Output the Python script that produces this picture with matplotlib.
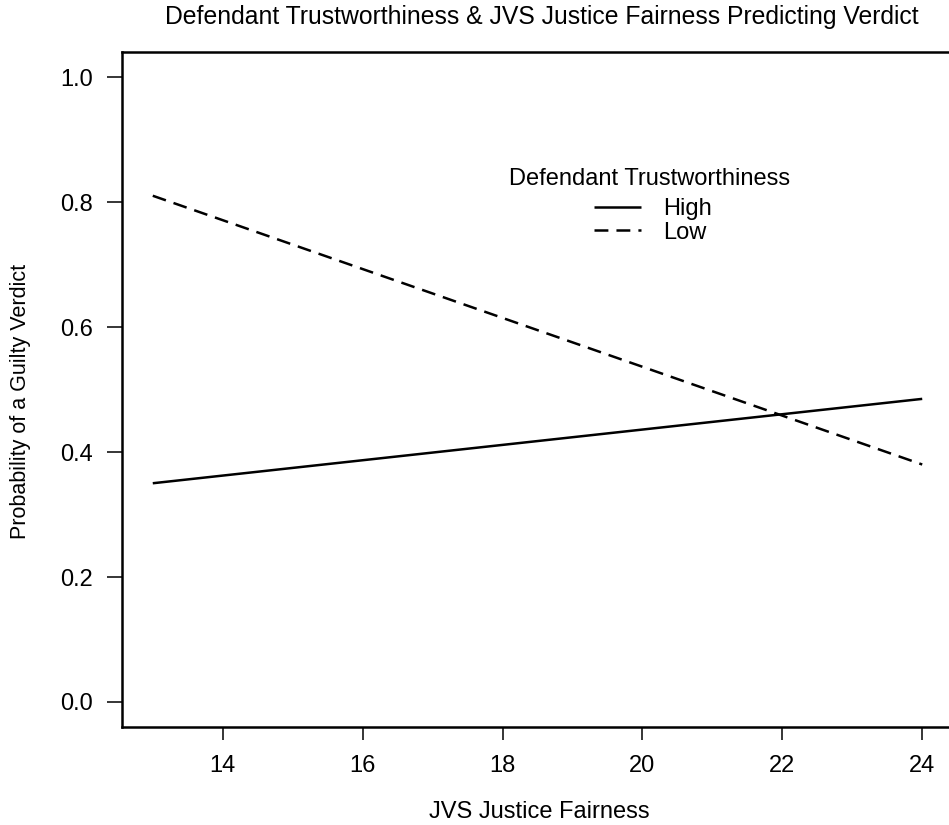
import matplotlib
matplotlib.use("Agg")
import matplotlib.pyplot as plt

plt.rcParams['font.family'] = ['Liberation Sans', 'DejaVu Sans']
plt.rcParams['lines.scale_dashes'] = False

# data
fairness = [13, 24]
high_trust = [0.35, 0.485]
low_trust = [0.81, 0.38]
x_ticks = [14, 16, 18, 20, 22, 24]
y_ticks = [0.0, 0.2, 0.4, 0.6, 0.8, 1.0]

W, H = 949, 825
fig = plt.figure(figsize=(W / 100, H / 100), dpi=100)
# right edge of the box lies just outside the picture, as in the reference
ax = fig.add_axes([122 / W, 1 - 727 / H, (953 - 122) / W, (727 - 52) / H])

ax.plot(fairness, high_trust, color='black', lw=1.8, label='High', solid_capstyle='butt')
ax.plot(fairness, low_trust, color='black', lw=1.8, linestyle=(0, (10, 5.8)), label='Low',
        dash_capstyle='butt')

ax.set_xlim(12.56, 24.44)
ax.set_ylim(-0.04, 1.04)
ax.set_xticks(x_ticks)
ax.set_yticks(y_ticks)
ax.set_yticklabels(['%.1f' % v for v in y_ticks])
ax.tick_params(axis='both', direction='out', length=11, width=1.1, labelsize=17, pad=10)
ax.tick_params(axis='x', length=9.5, pad=11)
for s in ax.spines.values():
    s.set_linewidth(1.8)

ax.set_xlabel('JVS Justice Fairness', fontsize=17)
ax.xaxis.set_label_coords(539 / W, 1 - 818 / H, transform=fig.transFigure)
ax.xaxis.label.set_va('baseline')
ax.set_ylabel('Probability of a Guilty Verdict', fontsize=15.5)
ax.yaxis.set_label_coords(21 / W, 1 - 401 / H, transform=fig.transFigure)
ax.yaxis.label.set_va('center')

fig.text(542 / W, 1 - 24 / H, 'Defendant Trustworthiness & JVS Justice Fairness Predicting Verdict',
         ha='center', va='baseline', fontsize=17.8)

# legend title drawn on its own so its gap to the rows matches
fig.text(650 / W, 1 - 185 / H, 'Defendant Trustworthiness', ha='center', va='baseline', fontsize=17)
leg = ax.legend(loc='center', bbox_to_anchor=(653 / W, 1 - 221 / H),
                bbox_transform=fig.transFigure, frameon=False, fontsize=17,
                handlelength=2.0, handletextpad=0.95, labelspacing=0.06, borderpad=0)

fig.savefig('out.png', dpi=100)
